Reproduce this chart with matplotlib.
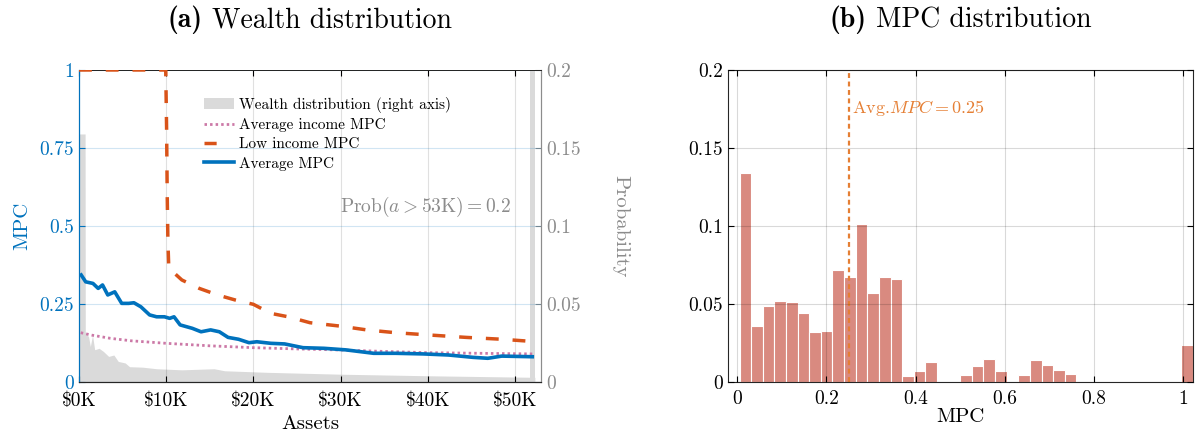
import numpy as np
import matplotlib
matplotlib.use("Agg")
import matplotlib.pyplot as plt
from matplotlib.patches import Patch
from matplotlib.lines import Line2D
from matplotlib.offsetbox import TextArea, HPacker, AnchoredOffsetbox

plt.rcParams['font.family'] = 'serif'
plt.rcParams['font.serif'] = ['cmr10']
plt.rcParams['mathtext.fontset'] = 'cm'
plt.rcParams['axes.formatter.use_mathtext'] = True
plt.rcParams['axes.unicode_minus'] = False

# ---- panel (a): MPC against assets (thousands of $) ----
avg_mpc_assets = [0.25, 0.77, 1.6, 2.2, 2.7, 3.3, 4.1, 4.9, 5.7, 6.3, 7.1, 8.1, 8.9,
                  9.8, 10.4, 10.9, 11.6, 13.0, 14.0, 15.1, 16.1, 17.1, 18.3, 19.5,
                  20.4, 22.0, 23.6, 25.7, 28.1, 30.6, 33.8, 36.3, 39.5, 42.4, 45.2,
                  46.9, 48.5, 52.0]
avg_mpc = [0.343, 0.321, 0.316, 0.300, 0.311, 0.279, 0.289, 0.252, 0.252, 0.254,
           0.241, 0.215, 0.209, 0.209, 0.204, 0.209, 0.183, 0.172, 0.161, 0.167,
           0.161, 0.143, 0.137, 0.126, 0.129, 0.124, 0.122, 0.110, 0.108, 0.103,
           0.092, 0.092, 0.090, 0.0865, 0.079, 0.076, 0.083, 0.081]

mid_mpc_assets = [0.2, 1.5, 3.6, 6.0, 10.0, 15.0, 20.0, 25.0, 30.0, 35.0, 40.0, 46.0, 52.0]
mid_mpc = [0.158, 0.150, 0.140, 0.132, 0.124, 0.116, 0.110, 0.106, 0.1026, 0.098,
           0.094, 0.092, 0.090]

low_mpc_assets = [0.0, 9.95, 10.05, 10.12, 10.2, 10.3, 11.8, 13.8, 15.9, 17.9, 20.0,
                  22.0, 24.0, 26.5, 30.0, 33.0, 36.3, 40.0, 44.4, 48.5, 52.0]
low_mpc = [1.0, 1.0, 0.81, 0.60, 0.45, 0.365, 0.327, 0.300, 0.279, 0.263, 0.249,
           0.220, 0.209, 0.190, 0.179, 0.167, 0.158, 0.151, 0.143, 0.137, 0.130]

wealth_assets = [0.0, 0.7, 0.72, 1.1, 1.3, 1.55, 1.8, 2.3, 2.8, 3.4, 4.0, 4.5, 5.3,
                 5.8, 7.3, 8.9, 11.8, 15.5, 16.7, 21.6, 30.0, 40.0, 52.3]
wealth_prob = [0.159, 0.159, 0.032, 0.029, 0.0228, 0.030, 0.0207, 0.0216, 0.0196,
               0.0164, 0.0173, 0.0132, 0.0122, 0.0098, 0.0095, 0.0085, 0.0078,
               0.0085, 0.0072, 0.0062, 0.005, 0.004, 0.003]
top_asset = 52.0
prob_above_top = 0.2

asset_ticks = [0, 10, 20, 30, 40, 50]

# ---- panel (b): histogram of MPCs ----
mpc_edges = np.linspace(0.005, 1.022, 40)
mpc_share = [0.134, 0.036, 0.049, 0.052, 0.051, 0.044, 0.032, 0.033, 0.072, 0.067,
             0.101, 0.057, 0.067, 0.066, 0.004, 0.007, 0.013, 0.0, 0.0, 0.0045,
             0.010, 0.015, 0.0073, 0.0, 0.0047, 0.014, 0.011, 0.008, 0.005, 0.0,
             0.0, 0.0, 0.0, 0.0, 0.0, 0.0, 0.0, 0.0, 0.0237]
avg_mpc_value = 0.25

blue = '#0072BD'
orange = '#D95319'
pink = '#CC79A7'
gray_txt = '#8c8c8c'
fill_gray = '#dadada'
dash_low = (0, (3.7, 4.0))
dot_mid = (0, (0.9, 1.1))


def panel_title(ax, tag, text):
    # bold tag followed by regular text, centred above the axes
    box = HPacker(children=[TextArea(tag, textprops=dict(family='cmb10', fontsize=20)),
                            TextArea(text, textprops=dict(fontsize=20))],
                  align='baseline', pad=0, sep=7)
    anchored = AnchoredOffsetbox(loc='lower center', child=box, pad=0, borderpad=0,
                                 frameon=False, bbox_to_anchor=(0.5, 1.115),
                                 bbox_transform=ax.transAxes)
    ax.add_artist(anchored)


fig = plt.figure(figsize=(11.95, 4.34), dpi=100)
W, H = 1195, 434
ax1 = fig.add_axes([79 / W, 52 / H, 462 / W, 312 / H])
ax2 = ax1.twinx()
ax1.set_zorder(ax2.get_zorder() + 1)
ax1.patch.set_visible(False)

# wealth distribution on the right axis
ax2.fill_between(wealth_assets, 0, wealth_prob, color=fill_gray, lw=0)
ax2.bar([top_asset], [prob_above_top], width=0.6, color=fill_gray, lw=0)
ax2.set_ylim(0, 0.2)
ax2.set_yticks([0, 0.05, 0.1, 0.15, 0.2])
ax2.set_yticklabels(['0', '0.05', '0.1', '0.15', '0.2'])
ax2.tick_params(axis='y', direction='in', colors=gray_txt, labelsize=14, length=4)
ax2.set_ylabel('Probability', color=gray_txt, fontsize=15, rotation=270, labelpad=35)

ax1.plot(mid_mpc_assets, mid_mpc, color=pink, lw=2, ls=dot_mid)
ax1.plot(low_mpc_assets, low_mpc, color=orange, lw=2.5, ls=dash_low, zorder=3)
ax1.plot(avg_mpc_assets, avg_mpc, color=blue, lw=2.6)
ax1.set_xlim(0, 53)
ax1.set_ylim(0, 1)
ax1.set_xticks(asset_ticks)
ax1.set_xticklabels([r'\$%dK' % t for t in asset_ticks])
ax1.set_yticks([0, 0.25, 0.5, 0.75, 1])
ax1.set_yticklabels(['0', '0.25', '0.5', '0.75', '1'])
ax1.tick_params(axis='x', direction='in', top=True, labelsize=14, length=4, pad=7)
ax1.tick_params(axis='y', direction='in', colors=blue, labelsize=14, length=4)
ax1.xaxis.grid(True, color='#000000', alpha=0.12, lw=0.8)
ax1.yaxis.grid(True, color=blue, alpha=0.18, lw=0.8)
ax1.set_xlabel('Assets', fontsize=15, labelpad=4)
ax1.set_ylabel('MPC', color=blue, fontsize=15, labelpad=6)
panel_title(ax1, '(a)', 'Wealth distribution')
for a in (ax1, ax2):
    a.spines['left'].set_color(blue)
    a.spines['right'].set_color(gray_txt)
    a.spines['top'].set_color('#262626')
    a.spines['bottom'].set_color('#262626')
    a.spines['top'].set_linewidth(0.7)

ax1.text(49.6, 0.56, r'Prob$(a>53\mathrm{K})=0.2$', color=gray_txt, fontsize=14,
         ha='right', va='center')

handles = [Patch(facecolor=fill_gray, edgecolor='none'),
           Line2D([], [], color=pink, lw=2, ls=dot_mid),
           Line2D([], [], color=orange, lw=2.5, ls=(0, (3.5, 10.0))),
           Line2D([], [], color=blue, lw=2.6)]
labels = ['Wealth distribution (right axis)', 'Average income MPC',
          'Low income MPC', 'Average MPC']
ax1.legend(handles, labels, loc='upper left', bbox_to_anchor=(0.27, 0.915),
           frameon=False, fontsize=11, handlelength=2.0, handletextpad=0.3,
           borderpad=0, borderaxespad=0, labelspacing=0.36)

# ---- panel (b) ----
ax3 = fig.add_axes([728 / W, 52 / H, 465 / W, 312 / H])
ax3.bar(mpc_edges[:-1], mpc_share, width=np.diff(mpc_edges), align='edge',
        color='#D98A80', edgecolor='white', lw=0.8)
ax3.axvline(avg_mpc_value, color='#E57F34', lw=1.6, ls=(0, (2.2, 1.6)))
ax3.text(avg_mpc_value + 0.007, 0.1755, r'Avg.$MPC=%.2f$' % avg_mpc_value,
         color='#E57F34', fontsize=13, ha='left', va='center')
ax3.set_xlim(-0.021, 1.023)
ax3.set_ylim(0, 0.2)
ax3.set_xticks([0, 0.2, 0.4, 0.6, 0.8, 1])
ax3.set_xticklabels(['0', '0.2', '0.4', '0.6', '0.8', '1'])
ax3.set_yticks([0, 0.05, 0.1, 0.15, 0.2])
ax3.set_yticklabels(['0', '0.05', '0.1', '0.15', '0.2'])
ax3.tick_params(direction='in', top=True, right=True, labelsize=14, length=4)
ax3.tick_params(axis='x', pad=6)
ax3.set_axisbelow(False)
ax3.grid(True, color='#000000', alpha=0.15, lw=0.8)
ax3.set_xlabel('MPC', fontsize=15, labelpad=0)
panel_title(ax3, '(b)', 'MPC distribution')
for s in ax3.spines.values():
    s.set_color('#262626')

fig.savefig('out.png', dpi=100)
